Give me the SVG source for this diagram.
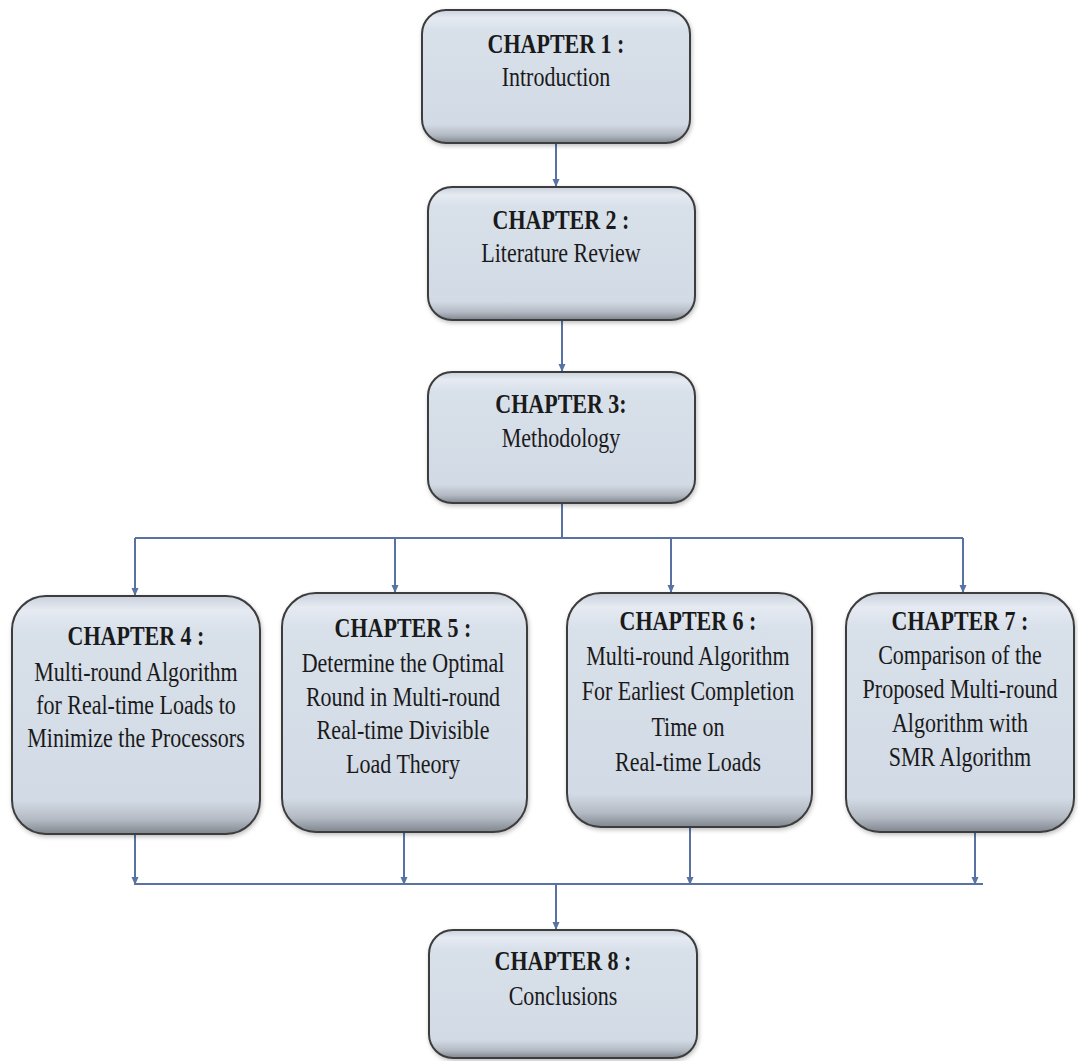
<svg xmlns="http://www.w3.org/2000/svg" width="1078" height="1061" viewBox="0 0 1078 1061">
<style>
.box{fill:url(#g);stroke:#3c3c3c;stroke-width:2;filter:url(#sh)}
.t{font-family:"Liberation Serif","Times New Roman",serif;font-size:27px;fill:#1a1a1a;text-anchor:middle}
.b{font-weight:bold}
.c{fill:none;stroke:#5873a3;stroke-width:2}
</style>
<defs>
<linearGradient id="g" x1="0" y1="0" x2="0" y2="1">
<stop offset="0" stop-color="#c9d1dc"/>
<stop offset="0.06" stop-color="#e6ebf2"/>
<stop offset="0.15" stop-color="#d8e0ea"/>
<stop offset="0.86" stop-color="#d2dae5"/>
<stop offset="0.94" stop-color="#b3bac3"/>
<stop offset="1" stop-color="#7f868e"/>
</linearGradient>
<filter id="sh" x="-5%" y="-5%" width="110%" height="115%">
<feDropShadow dx="1" dy="2" stdDeviation="2" flood-color="#000" flood-opacity="0.25"/>
</filter>
<marker id="ah" markerWidth="10" markerHeight="10" refX="9" refY="5" orient="auto" markerUnits="userSpaceOnUse">
<path d="M1,1.5 L9,5 L1,8.5 z" fill="#5873a3"/>
</marker>
</defs>
<rect width="1078" height="1061" fill="#ffffff"/>

<g id="connectors">
<line class="c" x1="556" y1="143" x2="556" y2="187" marker-end="url(#ah)"/>
<line class="c" x1="562" y1="320" x2="562" y2="372" marker-end="url(#ah)"/>
<polyline class="c" points="562,503 562,538"/>
<line class="c" x1="135" y1="538" x2="963" y2="538"/>
<line class="c" x1="135" y1="538" x2="135" y2="596" marker-end="url(#ah)"/>
<line class="c" x1="395" y1="538" x2="395" y2="593" marker-end="url(#ah)"/>
<line class="c" x1="671" y1="538" x2="671" y2="593" marker-end="url(#ah)"/>
<line class="c" x1="963" y1="538" x2="963" y2="593" marker-end="url(#ah)"/>
<line class="c" x1="135" y1="834" x2="135" y2="885" marker-end="url(#ah)"/>
<line class="c" x1="404" y1="832" x2="404" y2="885" marker-end="url(#ah)"/>
<line class="c" x1="690" y1="827" x2="690" y2="885" marker-end="url(#ah)"/>
<line class="c" x1="975" y1="831" x2="975" y2="885" marker-end="url(#ah)"/>
<line class="c" x1="135" y1="884" x2="983" y2="884"/>
<line class="c" x1="556" y1="884" x2="556" y2="930" marker-end="url(#ah)"/>
</g>

<g id="ch1">
<rect class="box" x="422" y="10" width="268" height="133" rx="24"/>
<text class="t b" transform="translate(556,53) scale(0.815,1)">CHAPTER 1 :</text>
<text class="t" transform="translate(556,86) scale(0.815,1)">Introduction</text>
</g>

<g id="ch2">
<rect class="box" x="428" y="187" width="267" height="133" rx="24"/>
<text class="t b" transform="translate(561,229) scale(0.815,1)">CHAPTER 2 :</text>
<text class="t" transform="translate(561,262) scale(0.815,1)">Literature Review</text>
</g>

<g id="ch3">
<rect class="box" x="428" y="372" width="267" height="131" rx="24"/>
<text class="t b" transform="translate(561,413) scale(0.815,1)">CHAPTER 3:</text>
<text class="t" transform="translate(561,447) scale(0.815,1)">Methodology</text>
</g>

<g id="ch4">
<rect class="box" x="12" y="596" width="248" height="238" rx="34"/>
<text class="t b" transform="translate(136,645) scale(0.815,1)">CHAPTER 4 :</text>
<text class="t" transform="translate(136,681) scale(0.815,1)">Multi-round Algorithm</text>
<text class="t" transform="translate(136,714) scale(0.815,1)">for Real-time Loads to</text>
<text class="t" transform="translate(136,747) scale(0.815,1)">Minimize the Processors</text>
</g>

<g id="ch5">
<rect class="box" x="282" y="593" width="245" height="239" rx="34"/>
<text class="t b" transform="translate(403,637) scale(0.815,1)">CHAPTER 5 :</text>
<text class="t" transform="translate(403,672) scale(0.815,1)">Determine the Optimal</text>
<text class="t" transform="translate(403,706) scale(0.815,1)">Round in Multi-round</text>
<text class="t" transform="translate(403,739) scale(0.815,1)">Real-time Divisible</text>
<text class="t" transform="translate(403,773) scale(0.815,1)">Load Theory</text>
</g>

<g id="ch6">
<rect class="box" x="567" y="593" width="245" height="234" rx="34"/>
<text class="t b" transform="translate(688,630) scale(0.815,1)">CHAPTER 6 :</text>
<text class="t" transform="translate(688,665) scale(0.815,1)">Multi-round Algorithm</text>
<text class="t" transform="translate(688,700) scale(0.815,1)">For Earliest Completion</text>
<text class="t" transform="translate(688,736) scale(0.815,1)">Time on</text>
<text class="t" transform="translate(688,771) scale(0.815,1)">Real-time Loads</text>
</g>

<g id="ch7">
<rect class="box" x="846" y="593" width="228" height="239" rx="34"/>
<text class="t b" transform="translate(960,630) scale(0.815,1)">CHAPTER 7 :</text>
<text class="t" transform="translate(960,664) scale(0.815,1)">Comparison  of the</text>
<text class="t" transform="translate(960,698) scale(0.815,1)">Proposed Multi-round</text>
<text class="t" transform="translate(960,732) scale(0.815,1)">Algorithm  with</text>
<text class="t" transform="translate(960,766) scale(0.815,1)">SMR Algorithm</text>
</g>

<g id="ch8">
<rect class="box" x="429" y="930" width="268" height="128" rx="24"/>
<text class="t b" transform="translate(563,970) scale(0.815,1)">CHAPTER 8 :</text>
<text class="t" transform="translate(563,1005) scale(0.815,1)">Conclusions</text>
</g>
</svg>
